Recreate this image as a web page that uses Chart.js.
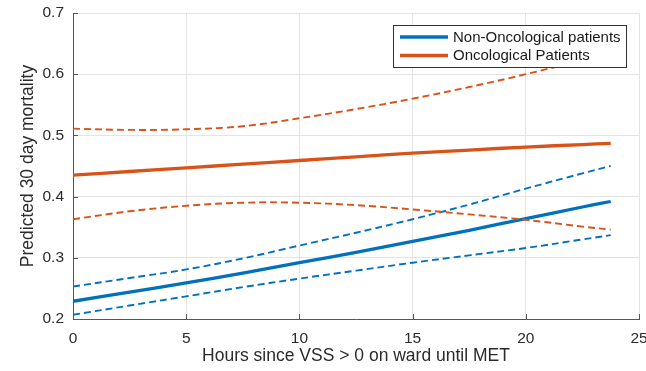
<!DOCTYPE html>
<html>
<head>
<meta charset="utf-8">
<script src="https://cdn.jsdelivr.net/npm/chart.js@4/dist/chart.umd.min.js"></script>
<style>
  html, body { margin: 0; padding: 0; background: #ffffff; }
  #wrap { width: 646px; height: 371px; position: relative; }
</style>
</head>
<body>
<div id="wrap"><canvas id="mortalityChart"></canvas></div>
<script>
// Hours since VSS > 0 (x positions)
const hours = [0, 2.5, 5, 7.5, 10, 12.5, 15, 17.5, 20, 22.5, 23.75];

// Non-oncological patients: fit and 95% band
const nonOncFit   = [0.229, 0.244, 0.259, 0.275, 0.292, 0.309, 0.327, 0.345, 0.364, 0.383, 0.392];
const nonOncUpper = [0.253, 0.267, 0.281, 0.299, 0.320, 0.341, 0.363, 0.387, 0.413, 0.438, 0.450];
const nonOncLower = [0.207, 0.222, 0.237, 0.252, 0.266, 0.279, 0.292, 0.304, 0.316, 0.330, 0.337];

// Oncological patients: fit and 95% band
const oncFit   = [0.435, 0.441, 0.447, 0.453, 0.459, 0.465, 0.471, 0.476, 0.481, 0.485, 0.487];
const oncUpper = [0.511, 0.509, 0.510, 0.515, 0.528, 0.543, 0.560, 0.579, 0.600, 0.623, 0.635];
const oncLower = [0.363, 0.376, 0.385, 0.390, 0.390, 0.386, 0.379, 0.371, 0.362, 0.351, 0.346];

const seriesNames = ['Non-Oncological patients', 'Oncological Patients'];
const xTitle = 'Hours since VSS > 0 on ward until MET';
const yTitle = 'Predicted 30 day mortality';

const BLUE = '#0072BD';
const ORANGE = '#D95319';
const AXIS = '#555555';
const GRID = '#e4e4e4';
const TEXT = '#2b2b2b';
const FONT = '"Liberation Sans", Arial, Helvetica, sans-serif';

function pts(ys) {
    return hours.map((h, i) => ({ x: h, y: ys[i] }));
}

function solid(label, ys, color) {
    return { label: label, data: pts(ys), borderColor: color, borderWidth: 3.3,
             pointRadius: 0, fill: false, tension: 0.4 };
}

function dashed(label, ys, color) {
    return { label: label, data: pts(ys), borderColor: color, borderWidth: 1.9,
             borderDash: [7, 4], pointRadius: 0, fill: false, tension: 0.4 };
}

// inward tick marks like the MATLAB axes
const innerTicks = {
    id: 'innerTicks',
    beforeDatasetsDraw(chart) {
        const { ctx, chartArea, scales } = chart;
        ctx.save();
        ctx.strokeStyle = AXIS;
        ctx.lineWidth = 1;
        ctx.beginPath();
        scales.x.ticks.forEach(t => {
            const px = Math.round(scales.x.getPixelForValue(t.value)) + 0.5;
            ctx.moveTo(px, chartArea.bottom);
            ctx.lineTo(px, chartArea.bottom - 5);
        });
        scales.y.ticks.forEach(t => {
            const py = Math.round(scales.y.getPixelForValue(t.value)) + 0.5;
            ctx.moveTo(chartArea.left, py);
            ctx.lineTo(chartArea.left + 5, py);
        });
        ctx.stroke();
        ctx.restore();
    }
};

// legend box drawn on top of the curves
const boxLegend = {
    id: 'boxLegend',
    afterDatasetsDraw(chart) {
        const ctx = chart.ctx;
        const x = 393.5, y = 25.5, w = 233, h = 42;
        const colors = [BLUE, ORANGE];
        ctx.save();
        ctx.fillStyle = '#ffffff';
        ctx.fillRect(x, y, w, h);
        ctx.strokeStyle = '#333333';
        ctx.lineWidth = 1;
        ctx.strokeRect(x, y, w, h);
        ctx.font = '15px ' + FONT;
        ctx.textBaseline = 'middle';
        seriesNames.forEach((name, i) => {
            const ly = 37 + i * 18.5;
            ctx.strokeStyle = colors[i];
            ctx.lineWidth = 3.3;
            ctx.beginPath();
            ctx.moveTo(400, ly);
            ctx.lineTo(448, ly);
            ctx.stroke();
            ctx.fillStyle = '#1a1a1a';
            ctx.fillText(name, 453, ly + 0.5);
        });
        ctx.restore();
    }
};

const ctx = document.getElementById('mortalityChart').getContext('2d');
new Chart(ctx, {
    type: 'line',
    data: {
        datasets: [
            dashed('Onc upper', oncUpper, ORANGE),
            dashed('Onc lower', oncLower, ORANGE),
            solid(seriesNames[1], oncFit, ORANGE),
            dashed('Non-onc upper', nonOncUpper, BLUE),
            dashed('Non-onc lower', nonOncLower, BLUE),
            solid(seriesNames[0], nonOncFit, BLUE)
        ]
    },
    options: {
        responsive: true,
        maintainAspectRatio: false,
        animation: false,
        layout: { padding: { top: 13, right: 7, left: 0, bottom: 0 } },
        plugins: {
            legend: { display: false },
            tooltip: { enabled: false }
        },
        scales: {
            x: {
                type: 'linear',
                min: 0,
                max: 25,
                grid: { color: GRID, drawTicks: false },
                border: { color: AXIS, width: 1 },
                ticks: {
                    stepSize: 5,
                    padding: 10,
                    color: TEXT,
                    font: { family: FONT, size: 15.5 },
                    callback: (v) => String(v)
                },
                title: {
                    display: true,
                    text: xTitle,
                    color: TEXT,
                    font: { family: FONT, size: 17.5 },
                    padding: { top: 0, bottom: 4 }
                },
                afterFit(scale) {
                    scale.height = 52;
                    scale.paddingLeft = 0;
                    scale.paddingRight = 0;
                }
            },
            y: {
                min: 0.2,
                max: 0.7,
                grid: { color: GRID, drawTicks: false },
                border: { color: AXIS, width: 1 },
                ticks: {
                    stepSize: 0.1,
                    padding: 9,
                    color: TEXT,
                    font: { family: FONT, size: 15.5 },
                    callback: (v) => v.toFixed(1)
                },
                title: {
                    display: true,
                    text: yTitle,
                    color: TEXT,
                    font: { family: FONT, size: 17.5 },
                    padding: { top: 18, bottom: 0 }
                },
                afterFit(scale) {
                    scale.width = 73;
                    scale.paddingTop = 0;
                    scale.paddingBottom = 0;
                }
            }
        }
    },
    plugins: [innerTicks, boxLegend]
});
</script>
</body>
</html>
